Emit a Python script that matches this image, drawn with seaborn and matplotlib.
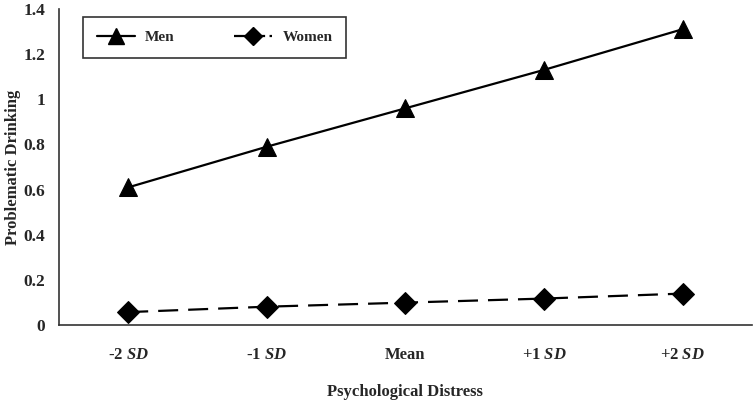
import matplotlib

matplotlib.use("Agg")
import matplotlib.pyplot as plt
import numpy as np
import pandas as pd
import seaborn as sns
from matplotlib.lines import Line2D

# --- data ---
levels = ["-2 SD", "-1 SD", "Mean", "+1 SD", "+2 SD"]
tick_labels = ["-2 $SD$", "-1 $SD$", "Mean", "+1 $SD$", "+2 $SD$"]
men = [0.61, 0.79, 0.96, 1.13, 1.31]
women = [0.058, 0.082, 0.10, 0.118, 0.14]
y_ticks = [0, 0.2, 0.4, 0.6, 0.8, 1.0, 1.2, 1.4]
y_tick_labels = ["0", "0.2", "0.4", "0.6", "0.8", "1", "1.2", "1.4"]

sns.set_style("white")
plt.rcParams["font.family"] = ["Liberation Serif", "DejaVu Serif"]
plt.rcParams["font.weight"] = "bold"
plt.rcParams["mathtext.fontset"] = "custom"
plt.rcParams["mathtext.it"] = "Liberation Serif:bold:italic"
plt.rcParams["mathtext.rm"] = "Liberation Serif:bold"

df = pd.DataFrame(
    {
        "level": list(range(len(levels))) * 2,
        "value": men + women,
        "group": ["Men"] * len(levels) + ["Women"] * len(levels),
    }
)

fig = plt.figure(figsize=(7.55, 4.03), dpi=100)
ax = fig.add_axes([0.078, 0.193, 0.918, 0.785])

sns.lineplot(
    data=df,
    x="level",
    y="value",
    hue="group",
    style="group",
    palette={"Men": "black", "Women": "black"},
    markers={"Men": "^", "Women": "D"},
    dashes={"Men": "", "Women": (9, 4.5)},
    markersize=13,
    linewidth=1.6,
    markeredgecolor="black",
    legend=False,
    ax=ax,
)
for ln in ax.lines:
    if ln.get_marker() == "D":
        ln.set_markersize(11)

ax.set_xlim(-0.5, len(levels) - 0.5)
ax.set_ylim(0, 1.4)
ax.set_xticks(range(len(levels)))
ax.set_xticklabels(tick_labels, fontsize=12, fontweight="bold")
ax.set_xticks(np.arange(-0.5, len(levels), 1.0), minor=True)
ax.tick_params(axis="x", which="major", length=0, pad=16)
ax.tick_params(axis="x", which="minor", length=4, color="#999999", direction="out")
ax.set_yticks(y_ticks)
ax.set_yticklabels(y_tick_labels, fontsize=12.5, fontweight="bold")
ax.tick_params(axis="y", length=3, color="#999999", direction="out", pad=7)

ax.set_xlabel("Psychological Distress", fontsize=12, fontweight="bold")
ax.set_ylabel("Problematic Drinking", fontsize=12, fontweight="bold")
ax.xaxis.set_label_coords(0.5, -0.185)
ax.yaxis.set_label_coords(-0.054, 0.5)

sns.despine(ax=ax)
for side in ["left", "bottom"]:
    ax.spines[side].set_color("#333333")
    ax.spines[side].set_linewidth(1.2)

handles = [
    Line2D([], [], color="black", marker="^", markersize=11, linewidth=1.6),
    Line2D([], [], color="black", marker="D", markersize=9, linewidth=1.6,
           dashes=(6, 2)),
]
leg = ax.legend(
    handles,
    ["Men", "Women"],
    loc="upper left",
    bbox_to_anchor=(0.035, 0.975),
    borderaxespad=0,
    ncol=2,
    frameon=True,
    fancybox=False,
    edgecolor="black",
    handlelength=2.5,
    handletextpad=0.65,
    columnspacing=3.9,
    borderpad=0.9,
    prop={"weight": "bold", "size": 11},
)
leg.get_frame().set_linewidth(1.2)

fig.savefig("out.png", dpi=100)
